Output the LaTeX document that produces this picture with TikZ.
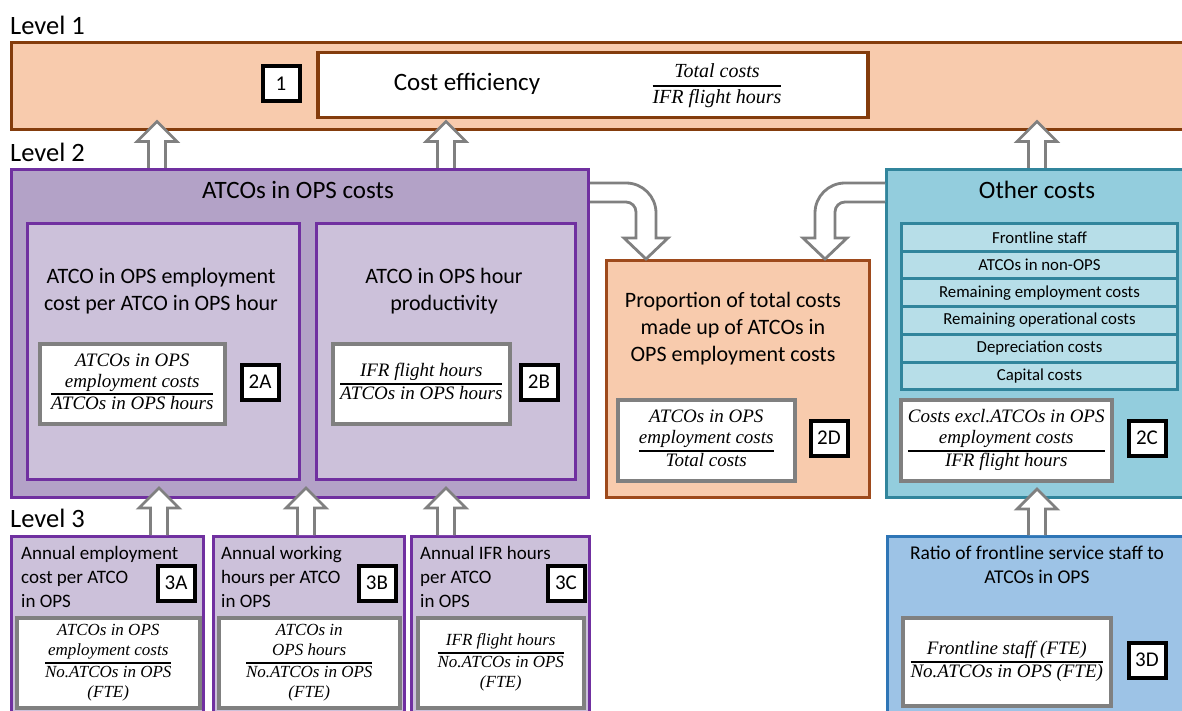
\documentclass[tikz,border=0pt]{standalone}
\usepackage{fontspec}
\setmainfont{Carlito}
\newfontfamily\ffam{Liberation Serif}
\usetikzlibrary{calc}
\definecolor{peach}{HTML}{F8CBAD}
\definecolor{brn}{HTML}{843C0C}
\definecolor{brnb}{HTML}{9E4A1C}
\definecolor{purpbd}{HTML}{7030A0}
\definecolor{purpA}{HTML}{B3A2C7}
\definecolor{purpB}{HTML}{CCC1DA}
\definecolor{tealF}{HTML}{93CDDD}
\definecolor{tealbd}{HTML}{31859C}
\definecolor{tealL}{HTML}{B7DEE8}
\definecolor{blueF}{HTML}{9DC3E6}
\definecolor{bluebd}{HTML}{2E75B6}
\definecolor{grayb}{HTML}{808080}
\newcommand\fsz[2]{\fontsize{#1pt}{#2pt}\selectfont}
\setlength\arrayrulewidth{1.6pt}
\newcommand\frc[2]{\begin{tabular}{@{}c@{}}#1\\\hline #2\end{tabular}}
\newcommand\upblk[3]{\draw[blk] let \p1=(#1), \p2=(#2) in
  (\x1-8.5pt,\y1) -- (\x1-8.5pt,\y2+#3pt-20pt) -- (\x1-20pt,\y2+#3pt-20pt) -- (\x1,\y2+#3pt)
  -- (\x1+20pt,\y2+#3pt-20pt) -- (\x1+8.5pt,\y2+#3pt-20pt) -- (\x1+8.5pt,\y1);}
\begin{document}
\begin{tikzpicture}[x=1pt,y=-1pt,
  bx/.style={draw, line width=3pt, inner sep=0pt, anchor=north west},
  fbox/.style={bx, draw=grayb, fill=white, line width=3.5pt},
  numb/.style={draw=black, fill=white, line width=4pt, minimum width=37pt, minimum height=35pt, inner sep=0pt, font=\fsz{21}{24}},
  lbl/.style={anchor=west, inner sep=0pt, font=\fsz{26.5}{30}},
  ttl/.style={inner sep=0pt, font=\fsz{25}{30}},
  sub/.style={inner sep=0pt, align=center, font=\fsz{22}{27}},
  lthree/.style={inner sep=0pt, anchor=west, align=left, font=\fsz{19}{24}},
  litem/.style={bx, draw=tealbd, fill=tealL, minimum width=276pt, minimum height=27.7pt, font=\fsz{16.8}{20}},
  fmlA/.style={inner sep=0pt, font=\ffam\itshape\fsz{20}{24}},
  fmlB/.style={inner sep=0pt, font=\ffam\itshape\fsz{19}{21}},
  fmlC/.style={inner sep=0pt, font=\ffam\itshape\fsz{17}{20}},
  blk/.style={draw=grayb, fill=white, line width=2.8pt, line join=miter}
]
\useasboundingbox (0,0) rectangle (1182,711);
\clip (0,0) rectangle (1182,711);

% ---------- Level 1
\node[lbl] (lv1) at (10,25) {Level 1};
\node[bx, draw=brn, fill=peach, minimum width=1190pt, minimum height=87pt] (lvl1) at (10,41) {};
\node[bx, draw=brn, fill=white, line width=3.5pt, minimum width=550pt, minimum height=65pt] (ce) at (316,51) {};
\node[numb] (n1) at (281,84) {1};
\node[ttl] (ceT) at (467,84) {Cost efficiency};
\node[fmlA] (ceF) at (717,86) {\frc{Total costs}{IFR flight hours}};

% ---------- Level 2
\node[lbl] (lv2) at (10,152) {Level 2};
\node[bx, draw=purpbd, fill=purpA, minimum width=577pt, minimum height=328pt] (atco) at (10,168) {};
\node[ttl] (atcoT) at (298,190) {ATCOs in OPS costs};

\node[bx, draw=purpbd, fill=purpB, minimum width=272pt, minimum height=256pt] (b2a) at (26,222) {};
\node[sub] (b2aT) at (161,291) {ATCO in OPS employment\\cost per ATCO in OPS hour};
\node[fbox, minimum width=185pt, minimum height=80pt] (f2a) at (38,342) {};
\node[fmlB] (f2aT) at (f2a.center) {\frc{ATCOs in OPS\\employment costs}{ATCOs in OPS hours}};
\node[numb] (n2a) at (260,382) {2A};

\node[bx, draw=purpbd, fill=purpB, minimum width=259pt, minimum height=256pt] (b2b) at (315,222) {};
\node[sub] (b2bT) at (444,291) {ATCO in OPS hour\\productivity};
\node[fbox, minimum width=177pt, minimum height=80pt] (f2b) at (331,342) {};
\node[fmlB] (f2bT) at (f2b.center) {\frc{IFR flight hours}{ATCOs in OPS hours}};
\node[numb] (n2b) at (539,382) {2B};

\node[bx, draw=brnb, fill=peach, minimum width=263pt, minimum height=237pt] (pd) at (605,259) {};
\node[sub] (pdT) at (733,329) {Proportion of total costs\\made up of ATCOs in\\OPS employment costs};
\node[fbox, minimum width=177pt, minimum height=81pt] (f2d) at (616,398) {};
\node[fmlB] (f2dT) at (f2d.center) {\frc{ATCOs in OPS\\employment costs}{Total costs}};
\node[numb] (n2d) at (829,438) {2D};

\node[bx, draw=tealbd, fill=tealF, minimum width=315pt, minimum height=328pt] (otr) at (885,168) {};
\node[ttl] (otrT) at (1037,190) {Other costs};
\node[litem] (li1) at (900,222) {Frontline staff};
\node[litem] (li2) at (900,249.7) {ATCOs in non-OPS};
\node[litem] (li3) at (900,277.4) {Remaining employment costs};
\node[litem] (li4) at (900,305.1) {Remaining operational costs};
\node[litem] (li5) at (900,332.8) {Depreciation costs};
\node[litem] (li6) at (900,360.5) {Capital costs};
\node[fbox, minimum width=211pt, minimum height=81pt] (f2c) at (899,398) {};
\node[fmlB] (f2cT) at (f2c.center) {\frc{Costs excl.ATCOs in OPS\\employment costs}{IFR flight hours}};
\node[numb] (n2c) at (1147,438) {2C};

% ---------- Level 3
\node[lbl] (lv3) at (10,518) {Level 3};
\node[bx, draw=purpbd, fill=purpB, minimum width=192pt, minimum height=200pt] (b3a) at (10,535) {};
\node[lthree] (t3a) at (21,577) {Annual employment\\cost per ATCO\\in OPS};
\node[numb] (n3a) at (176,583) {3A};
\node[fbox, minimum width=183pt, minimum height=90pt] (f3a) at (15,616) {};
\node[fmlC] (f3aT) at (f3a.center) {\frc{ATCOs in OPS\\employment costs}{No.ATCOs in OPS\\(FTE)}};

\node[bx, draw=purpbd, fill=purpB, minimum width=191pt, minimum height=200pt] (b3b) at (212,535) {};
\node[lthree] (t3b) at (221,577) {Annual working\\hours per ATCO\\in OPS};
\node[numb] (n3b) at (377,583) {3B};
\node[fbox, minimum width=181pt, minimum height=90pt] (f3b) at (217,616) {};
\node[fmlC] (f3bT) at (f3b.center) {\frc{ATCOs in\\OPS hours}{No.ATCOs in OPS\\(FTE)}};

\node[bx, draw=purpbd, fill=purpB, minimum width=178pt, minimum height=200pt] (b3c) at (410,535) {};
\node[lthree] (t3c) at (420,577) {Annual IFR hours\\per ATCO\\in OPS};
\node[numb] (n3c) at (566,583) {3C};
\node[fbox, minimum width=166pt, minimum height=90pt] (f3c) at (416,616) {};
\node[fmlC] (f3cT) at (f3c.center) {\frc{IFR flight hours}{No.ATCOs in OPS\\(FTE)}};

\node[bx, draw=bluebd, fill=blueF, minimum width=314pt, minimum height=200pt] (b3d) at (886,535) {};
\node[sub, font=\fsz{19.5}{24}] (t3d) at (1037,565) {Ratio of frontline service staff to\\ATCOs in OPS};
\node[fbox, minimum width=208pt, minimum height=88pt] (f3d) at (901,616) {};
\node[fmlB] (f3dT) at (f3d.center) {\frc{Frontline staff (FTE)}{No.ATCOs in OPS (FTE)}};
\node[numb] (n3d) at (1147,660) {3D};

% ---------- block arrows
\upblk{157,0 |- atco.north}{157,0 |- lvl1.south}{9.5}
\upblk{446,0 |- atco.north}{446,0 |- lvl1.south}{9.5}
\upblk{1037,0 |- otr.north}{1037,0 |- lvl1.south}{9.5}
\upblk{159,0 |- b3a.north}{159,0 |- atco.south}{11}
\upblk{306,0 |- b3b.north}{306,0 |- atco.south}{11}
\upblk{446,0 |- b3c.north}{446,0 |- atco.south}{11}
\upblk{1037,0 |- b3d.north}{1037,0 |- otr.south}{10}

\draw[blk] (atco.east |- 0,183) -- (626,183) .. controls (642.6,183) and (656,196.4) .. (656,213)
  -- (656,238) -- (668,238) -- (646,0 |- pd.north) -- (624,238) -- (636,238) -- (636,212)
  .. controls (636,206.5) and (631.5,202) .. (626,202) -- (atco.east |- 0,202);
\draw[blk] (otr.west |- 0,183) -- (845,183) .. controls (828.4,183) and (815,196.4) .. (815,213)
  -- (815,238) -- (803,238) -- (825,0 |- pd.north) -- (847,238) -- (835,238) -- (835,212)
  .. controls (835,206.5) and (839.5,202) .. (845,202) -- (otr.west |- 0,202);
\end{tikzpicture}
\end{document}
